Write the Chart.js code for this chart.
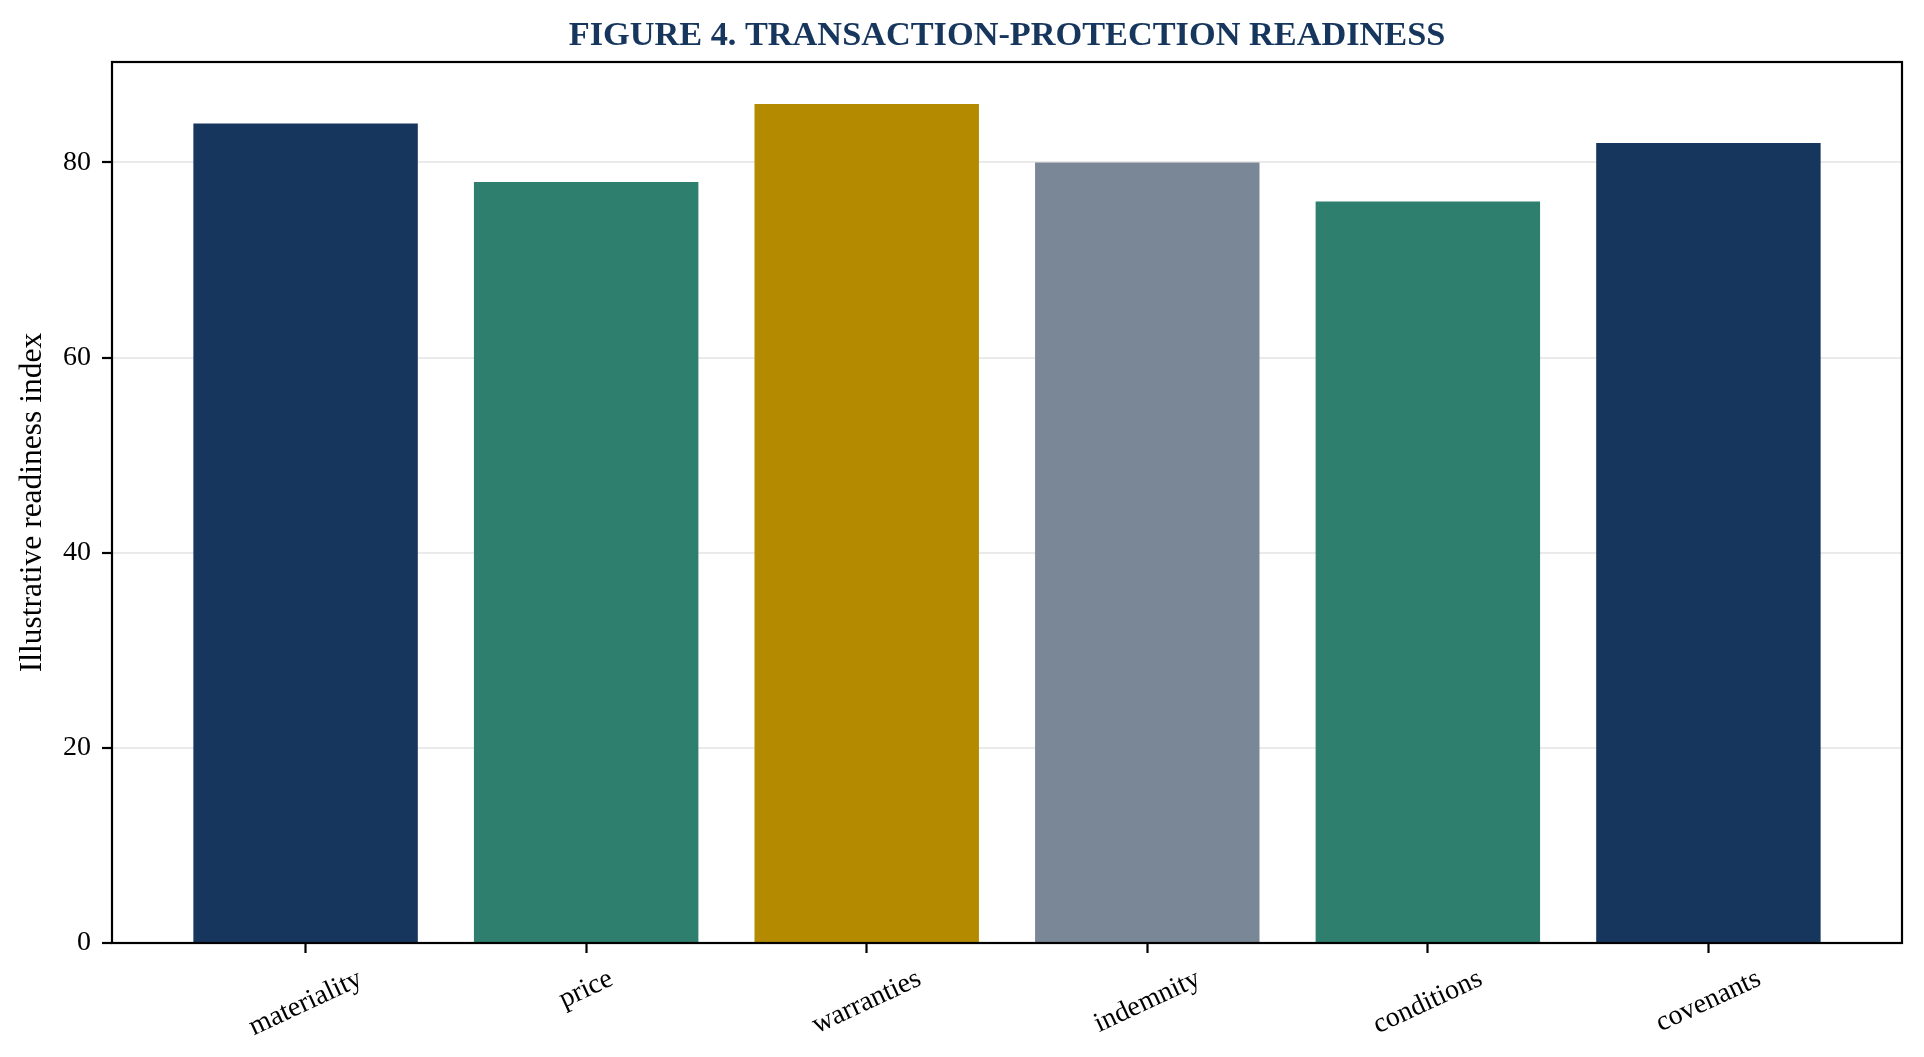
<!DOCTYPE html>
<html><head><meta charset="utf-8">
<script src="https://cdn.jsdelivr.net/npm/chart.js@4.4.1/dist/chart.umd.min.js"></script>
<style>html,body{margin:0;padding:0;background:#fff;overflow:hidden}canvas{display:block}</style>
</head><body>
<canvas id="c" width="1924" height="1057"></canvas>
<script>
const categories = ["materiality", "price", "warranties", "indemnity", "conditions", "covenants"];
const readiness = [84, 78, 86, 80, 76, 82];
const barColors = ["#17365D", "#2E7F6E", "#B38A00", "#7A8796", "#2E7F6E", "#17365D"];
const yTicks = [0, 20, 40, 60, 80];
const yMax = 90.3;
const xMin = -0.69, xMax = 5.69;
const titleText = "FIGURE 4. TRANSACTION-PROTECTION READINESS";
const yTitle = "Illustrative readiness index";
const SERIF = "'Liberation Serif','Times New Roman',serif";

const decor = {
  id: 'decor',
  afterDraw(chart) {
    const { ctx, chartArea: ca } = chart;
    const xs = chart.scales.x;
    ctx.save();
    ctx.strokeStyle = '#000';
    ctx.lineWidth = 2.2;
    ctx.strokeRect(ca.left, ca.top, ca.right - ca.left, ca.bottom - ca.top);
    ctx.fillStyle = '#17365D';
    ctx.font = 'bold 34.3px ' + SERIF;
    ctx.textAlign = 'center';
    ctx.textBaseline = 'alphabetic';
    ctx.fillText(titleText, (ca.left + ca.right) / 2, 45);
    ctx.fillStyle = '#000';
    ctx.font = '28px ' + SERIF;
    const th = 25 * Math.PI / 180;
    const H = 28 * 1.15;
    const top = ca.bottom + 20;
    categories.forEach((lab, i) => {
      const W = ctx.measureText(lab).width;
      const h2 = W * Math.sin(th) + H * Math.cos(th);
      const cx = xs.getPixelForValue(i), cy = top + h2 / 2;
      ctx.save();
      ctx.translate(cx, cy);
      ctx.rotate(-th);
      ctx.textAlign = 'center';
      ctx.textBaseline = 'middle';
      ctx.fillText(lab, 0, 0);
      ctx.restore();
    });
    ctx.restore();
  }
};

new Chart(document.getElementById('c'), {
  type: 'bar',
  data: {
    datasets: [{
      data: categories.map((c, i) => ({ x: i, y: readiness[i] })),
      backgroundColor: barColors,
      borderWidth: 0,
      barPercentage: 0.8,
      categoryPercentage: 1.0
    }]
  },
  options: {
    responsive: false,
    devicePixelRatio: 1,
    animation: false,
    layout: { padding: { left: 0, right: 22, top: 62, bottom: 0 } },
    plugins: { legend: { display: false }, title: { display: false }, tooltip: { enabled: false } },
    scales: {
      x: {
        type: 'linear', min: xMin, max: xMax, offset: false,
        afterBuildTicks: s => { s.ticks = categories.map((_, i) => ({ value: i })); },
        afterFit: s => { s.height = 114; },
        ticks: { display: false },
        grid: { display: true, drawOnChartArea: false, drawTicks: true, tickLength: 10, tickColor: '#000', tickWidth: 2.2, offset: false },
        border: { display: false }
      },
      y: {
        min: 0, max: yMax, z: 1,
        afterBuildTicks: s => { s.ticks = yTicks.map(v => ({ value: v })); },
        afterFit: s => { s.width = 112; },
        ticks: { font: { family: SERIF, size: 28 }, color: '#000', padding: 11, callback: v => String(v) },
        grid: {
          color: c => (c.tick && c.tick.value === 0) ? 'rgba(0,0,0,0)' : 'rgba(170,170,170,0.25)',
          lineWidth: 2, tickColor: '#000', tickWidth: 2.2, tickLength: 10
        },
        border: { display: false },
        title: { display: true, text: yTitle, font: { family: SERIF, size: 31.5 }, color: '#000', padding: { top: 14, bottom: 0 } }
      }
    }
  },
  plugins: [decor]
});
</script>
</body></html>
